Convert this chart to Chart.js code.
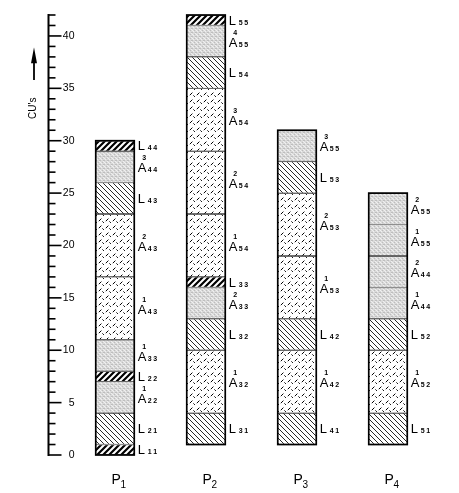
<!DOCTYPE html>
<html><head><meta charset="utf-8">
<script src="https://cdn.jsdelivr.net/npm/chart.js@4"></script>
<style>html,body{margin:0;padding:0;background:#fff}#wrap{width:459px;height:493px;position:relative}</style>
</head><body><div id="wrap"><canvas id="c"></canvas></div>
<script>
// ---- data ----
const categories = ['P1', 'P2', 'P3', 'P4'];
const p1Bounds = [0, 1, 4, 7, 8, 11, 17, 23, 26, 29, 30];
const p1Labels = ['L_11', 'L_21', 'A^1_22', 'L_22', 'A^1_33', 'A^1_43', 'A^2_43', 'L_43', 'A^3_44', 'L_44'];
const p2Bounds = [1, 4, 10, 13, 16, 17, 23, 29, 35, 38, 41, 42];
const p2Labels = ['L_31', 'A^1_32', 'L_32', 'A^2_33', 'L_33', 'A^1_54', 'A^2_54', 'A^3_54', 'L_54', 'A^4_55', 'L_55'];
const p3Bounds = [1, 4, 10, 13, 19, 25, 28, 31];
const p3Labels = ['L_41', 'A^1_42', 'L_42', 'A^1_53', 'A^2_53', 'L_53', 'A^3_55'];
const p4Bounds = [1, 4, 10, 13, 16, 19, 22, 25];
const p4Labels = ['L_51', 'A^1_52', 'L_52', 'A^1_44', 'A^2_44', 'A^1_55', 'A^2_55'];
const yMajorTicks = [0, 5, 10, 15, 20, 25, 30, 35, 40];
const yMin = 0, yMax = 42;
const axisTitle = "CU's";

const boundsList = [p1Bounds, p2Bounds, p3Bounds, p4Bounds];
const labelsList = [p1Labels, p2Labels, p3Labels, p4Labels];

function parseLabel(s) {
  const m = s.match(/^([LA])(?:\^(\d))?_(\d)(\d)$/);
  return { letter: m[1], sup: m[2] || '', i: m[3], j: m[4] };
}

// ---- fill patterns ----
function tile(size, draw) {
  const c = document.createElement('canvas');
  c.width = size; c.height = size;
  const g = c.getContext('2d');
  draw(g, size);
  return g.createPattern(c, 'repeat');
}
const patterns = {
  gray: tile(4, (g) => {
    g.fillStyle = '#d9d9d9'; g.fillRect(0, 0, 4, 4);
    g.fillStyle = '#bdbdbd'; g.fillRect(0, 0, 1, 1); g.fillRect(2, 2, 1, 1); g.fillRect(3, 0, 1, 1);
    g.fillStyle = '#f0f0f0'; g.fillRect(1, 3, 1, 1); g.fillRect(3, 1, 1, 1); g.fillRect(0, 2, 1, 1);
  }),
  hatch: tile(5, (g, s) => {
    g.fillStyle = '#fff'; g.fillRect(0, 0, s, s);
    g.strokeStyle = '#111'; g.lineWidth = 0.9;
    g.beginPath();
    g.moveTo(-1, -1); g.lineTo(s + 1, s + 1);
    g.moveTo(-1, s - 1); g.lineTo(1, s + 1);
    g.moveTo(s - 1, -1); g.lineTo(s + 1, 1);
    g.stroke();
  }),
  dense: tile(6, (g, s) => {
    g.fillStyle = '#fff'; g.fillRect(0, 0, s, s);
    g.strokeStyle = '#000'; g.lineWidth = 2.2;
    g.beginPath();
    g.moveTo(-1, s + 1); g.lineTo(s + 1, -1);
    g.moveTo(-2, 2); g.lineTo(2, -2);
    g.moveTo(s - 2, s + 2); g.lineTo(s + 2, s - 2);
    g.stroke();
  }),
  dash: tile(7, (g, s) => {
    g.fillStyle = '#fff'; g.fillRect(0, 0, s, s);
    g.strokeStyle = '#000'; g.lineWidth = 1;
    g.beginPath();
    g.moveTo(0.8, 4.2); g.lineTo(3.4, 1.6);
    g.moveTo(4.4, 4.4); g.lineTo(5.9, 5.9);
    g.stroke();
  })
};
function fillFor(lbl) {
  const p = parseLabel(lbl);
  const diag = p.i === p.j;
  if (p.letter === 'L') return diag ? patterns.dense : patterns.hatch;
  return diag ? patterns.gray : patterns.dash;
}

// ---- datasets: one per segment level ----
const maxSeg = Math.max(...labelsList.map(l => l.length));
const datasets = [];
for (let k = 0; k < maxSeg; k++) {
  datasets.push({
    data: categories.map((_, ci) => k < labelsList[ci].length ? [boundsList[ci][k], boundsList[ci][k + 1]] : null),
    backgroundColor: (ctx) => {
      const l = labelsList[ctx.dataIndex] && labelsList[ctx.dataIndex][k];
      return l ? fillFor(l) : 'transparent';
    }
  });
}

// ---- plugins ----
const outlinePlugin = {
  id: 'outline',
  afterDatasetsDraw(chart) {
    const g = chart.ctx, ys = chart.scales.y;
    categories.forEach((_, ci) => {
      const el = chart.getDatasetMeta(0).data[ci];
      const b = boundsList[ci];
      const x = el.x - el.width / 2;
      const top = ys.getPixelForValue(b[b.length - 1]);
      const bot = ys.getPixelForValue(b[0]);
      g.save(); g.strokeStyle = '#000'; g.lineWidth = 1.7;
      g.strokeRect(x, top, el.width, bot - top);
      g.restore();
    });
  }
};

const labelPlugin = {
  id: 'segLabels',
  afterDatasetsDraw(chart) {
    const g = chart.ctx, ys = chart.scales.y, xs = chart.scales.x;
    g.save();
    g.fillStyle = '#000';
    g.textBaseline = 'alphabetic';
    g.textAlign = 'left';
    categories.forEach((cat, ci) => {
      const el = chart.getDatasetMeta(0).data[ci];
      const right = el.x + el.width / 2;
      const b = boundsList[ci];
      labelsList[ci].forEach((lbl, k) => {
        const p = parseLabel(lbl);
        const cy = ys.getPixelForValue((b[k] + b[k + 1]) / 2);
        const base = p.letter === 'L' ? cy + 4.5 : cy + 5.5;
        g.font = '13px "Liberation Sans", Arial, sans-serif';
        g.fillText(p.letter, right + 3.5, base);
        g.font = 'bold 7px "Liberation Sans", Arial, sans-serif';
        g.fillText(p.i, right + 13.5, base);
        g.fillText(p.j, right + 19, base);
        if (p.sup) g.fillText(p.sup, right + 8, base - 12);
      });
      // category label P with subscript
      const cx = xs.getPixelForValue(ci);
      g.font = '14px "Liberation Sans", Arial, sans-serif';
      g.fillText(cat.charAt(0), cx - 3.5, 483.5);
      g.font = '10px "Liberation Sans", Arial, sans-serif';
      g.fillText(cat.slice(1), cx + 5.5, 487.5);
    });
    g.restore();
  }
};

const axisPlugin = {
  id: 'customAxis',
  afterDraw(chart) {
    const g = chart.ctx, ys = chart.scales.y, ca = chart.chartArea;
    const x0 = ca.left - 21;
    g.save();
    g.strokeStyle = '#000'; g.fillStyle = '#000';
    g.lineWidth = 2;
    g.beginPath();
    g.moveTo(x0, ys.getPixelForValue(yMin) + 1);
    g.lineTo(x0, ys.getPixelForValue(yMax) - 1);
    g.stroke();
    g.lineWidth = 1.6;
    for (let v = yMin; v <= yMax; v++) {
      const y = ys.getPixelForValue(v);
      const len = v % 5 === 0 ? 13 : 7;
      g.beginPath(); g.moveTo(x0, y); g.lineTo(x0 + len, y); g.stroke();
    }
    g.font = '10.5px "Liberation Sans Narrow", "Liberation Sans", Arial, sans-serif';
    g.textAlign = 'right'; g.textBaseline = 'middle';
    yMajorTicks.forEach(v => g.fillText(String(v), x0 + 26, ys.getPixelForValue(v)));
    // arrow
    const ax = x0 - 14.5;
    const tip = ys.getPixelForValue(38.9), headBase = ys.getPixelForValue(37.5), tail = ys.getPixelForValue(35.8);
    g.lineWidth = 1.8;
    g.beginPath(); g.moveTo(ax, headBase); g.lineTo(ax, tail); g.stroke();
    g.beginPath(); g.moveTo(ax, tip); g.lineTo(ax - 3, headBase + 1); g.lineTo(ax + 3, headBase + 1); g.closePath(); g.fill();
    // title
    g.translate(ax - 1, ys.getPixelForValue(33.1));
    g.rotate(-Math.PI / 2);
    g.textAlign = 'center'; g.textBaseline = 'middle';
    g.font = '10px "Liberation Sans", Arial, sans-serif';
    g.fillText(axisTitle, 0, 0);
    g.restore();
  }
};

new Chart(document.getElementById('c'), {
  type: 'bar',
  data: { labels: categories, datasets },
  options: {
    responsive: true,
    maintainAspectRatio: false,
    animation: false,
    events: [],
    layout: { padding: { left: 69.5, right: 25.5, top: 15, bottom: 38 } },
    scales: {
      x: { display: false },
      y: { display: false, min: yMin, max: yMax }
    },
    datasets: {
      bar: {
        grouped: false,
        barThickness: 38.5,
        borderColor: '#000',
        borderWidth: { top: 0.7, bottom: 0.7, left: 0, right: 0 },
        borderSkipped: false,
        inflateAmount: 0
      }
    },
    plugins: { legend: { display: false }, tooltip: { enabled: false } }
  },
  plugins: [outlinePlugin, labelPlugin, axisPlugin]
});
</script>
</body></html>
